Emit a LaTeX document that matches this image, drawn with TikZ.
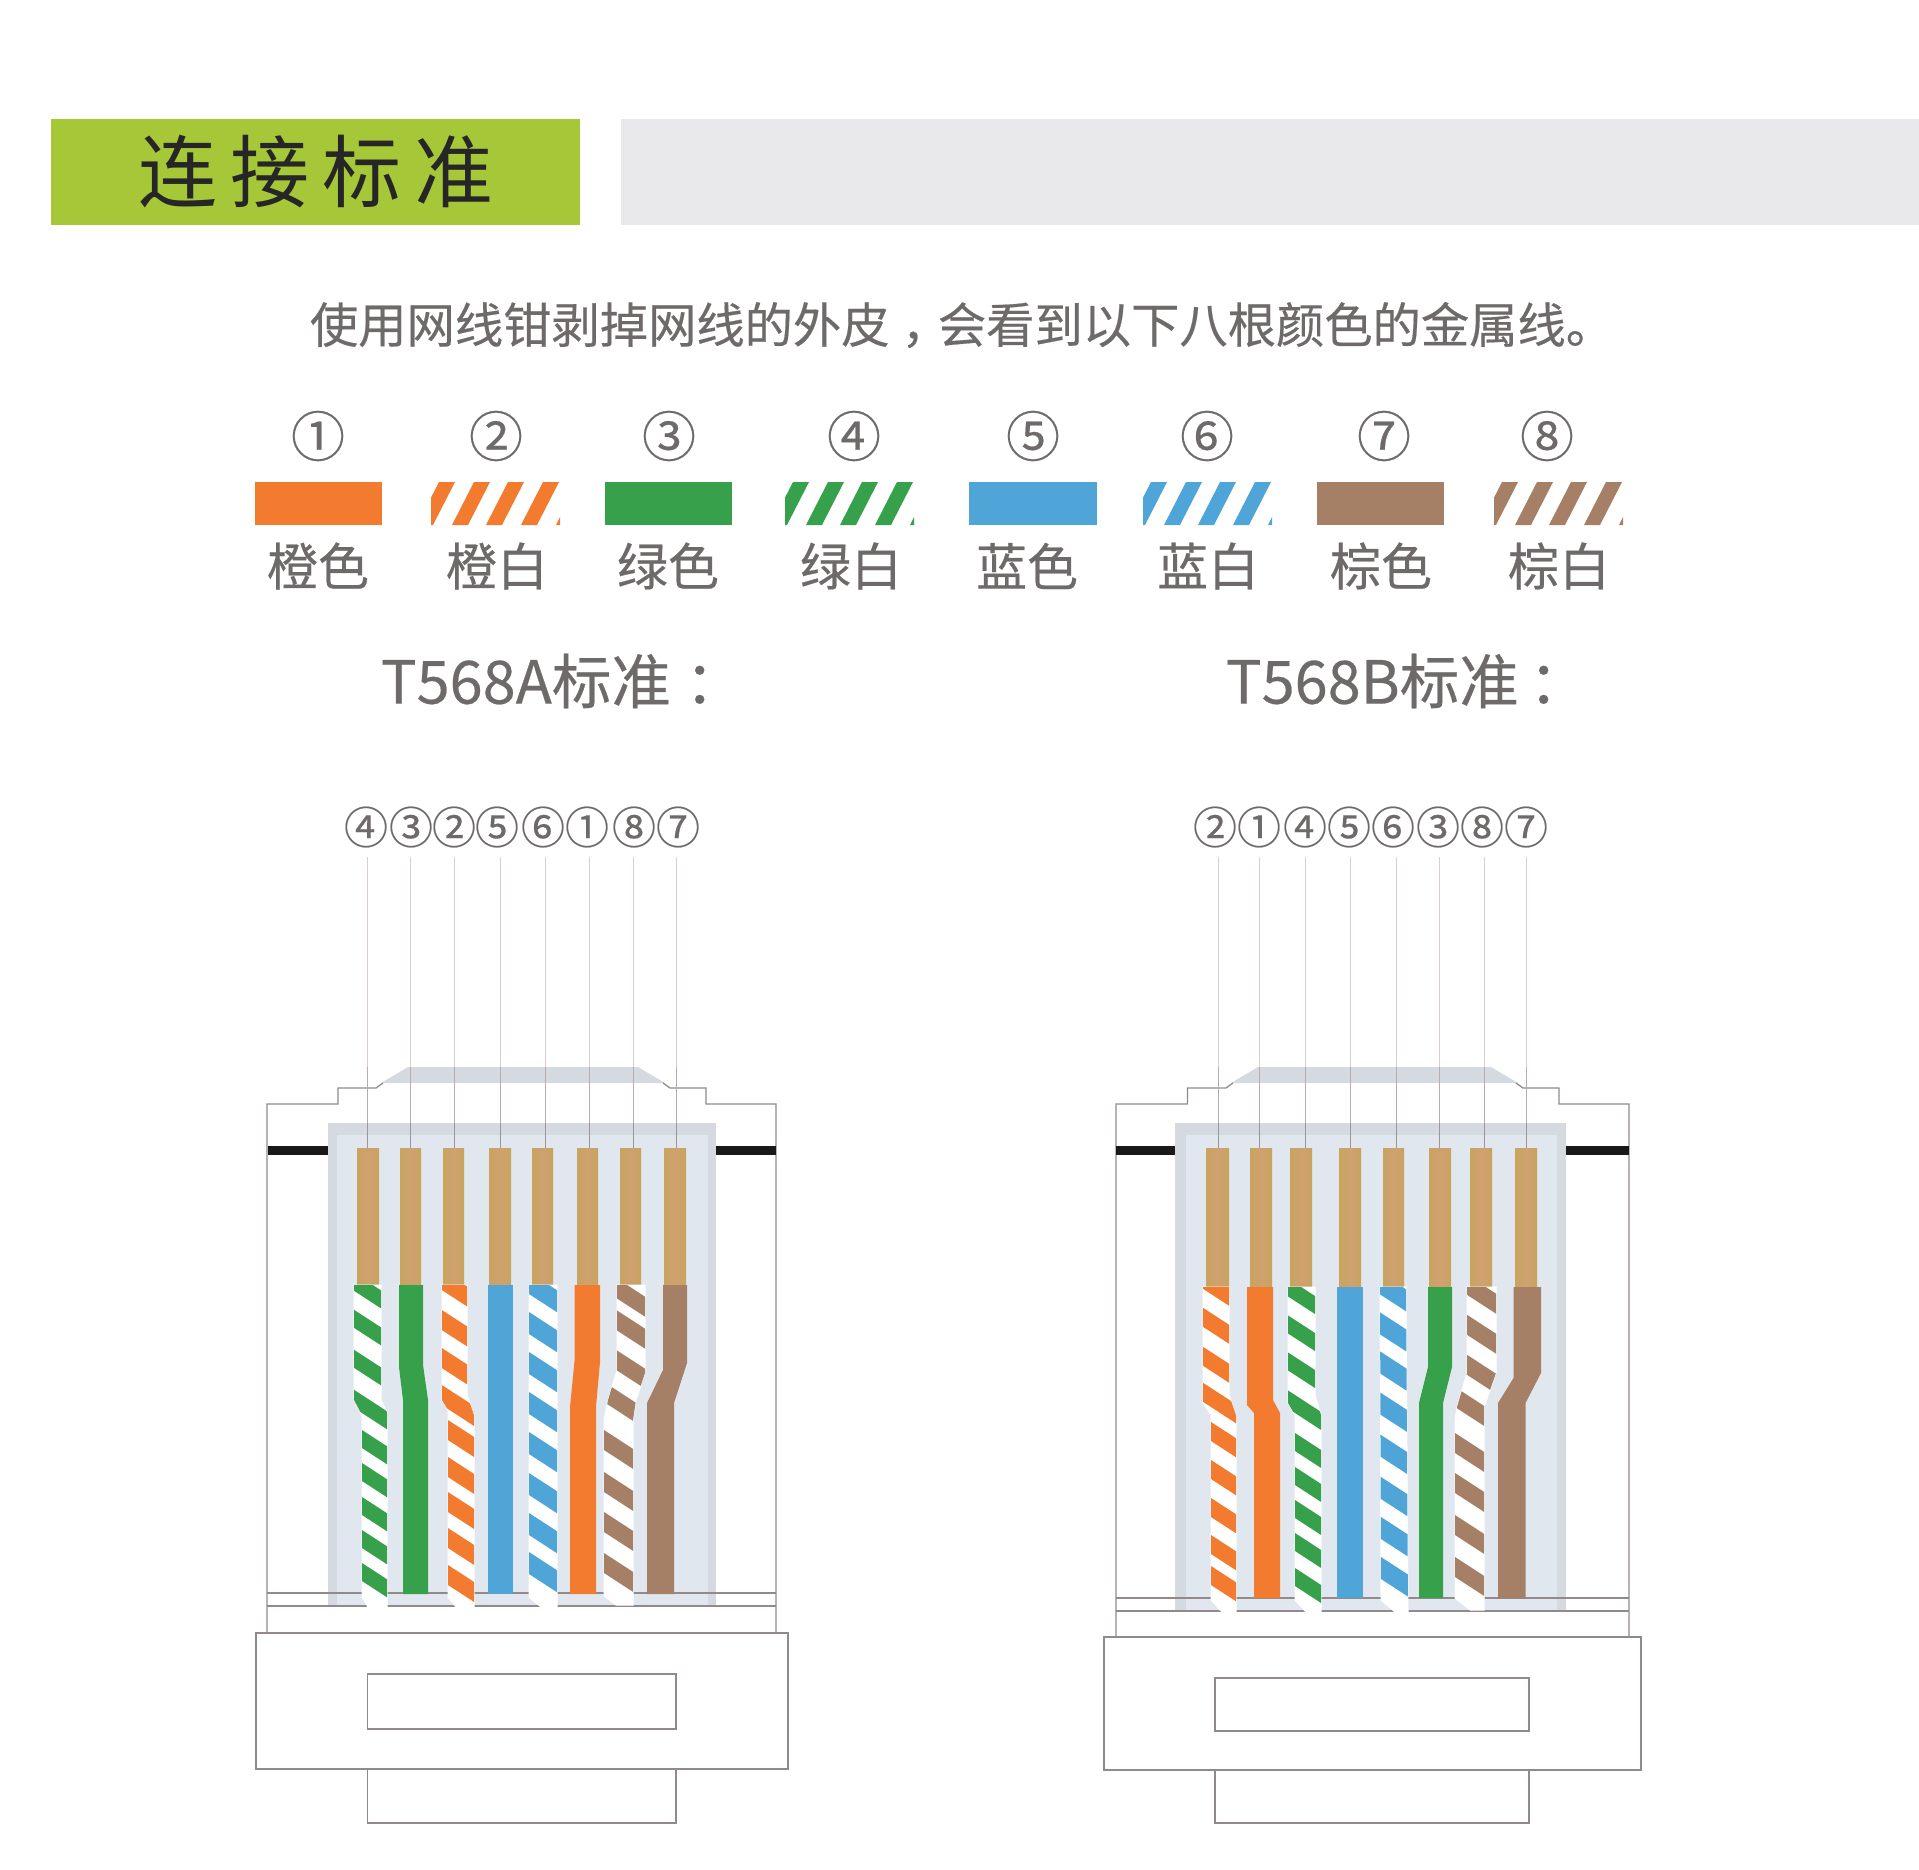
\documentclass[tikz,border=0pt]{standalone}
\usepackage{fontspec}
\setmainfont{Noto Sans CJK SC}
\newfontfamily\mfont[FakeBold=0.4]{Noto Sans CJK SC}
\definecolor{cor}{HTML}{F37B2F}
\definecolor{cgr}{HTML}{36A04A}
\definecolor{cbl}{HTML}{4FA5D8}
\definecolor{cbr}{HTML}{A58066}
\definecolor{ccu}{HTML}{C8A45E}
\definecolor{ccm}{HTML}{CFA170}
\definecolor{ctxt}{HTML}{6E6A6A}
\definecolor{cline}{HTML}{94898A}
\definecolor{cthin}{HTML}{DCCCCC}
\definecolor{cthm}{HTML}{B8ACAC}
\definecolor{cthd}{HTML}{9C9698}
\definecolor{gout}{HTML}{D5DAE1}
\definecolor{gin}{HTML}{E1E7EE}
\definecolor{hgreen}{HTML}{A5C738}
\definecolor{hgrey}{HTML}{E9E8EA}
\newcommand{\fsz}[1]{\fontsize{#1}{#1}\selectfont}
% path, colour, reference x, band thickness, list of y
\newcommand{\swire}[5]{%
  \fill[white,draw=white,line width=1pt] #1;
  \begin{scope}
    \clip #1;
    \foreach \yy in {#5} {
      \fill[#2] ({#3-30},{\yy-19.5}) -- ({#3+60},{\yy+39}) -- ({#3+60},{\yy+39+#4}) -- ({#3-30},{\yy-19.5+#4}) -- cycle;
    }
  \end{scope}}
\newcommand{\swatch}[2]{%
  \begin{scope}
    \clip (#1,482) rectangle ({#1+129},525);
    \foreach \dd in {-14,21,55,90,125} {
      \fill[#2] ({#1+\dd},525) -- ({#1+\dd+16},525) -- ({#1+\dd+38},482) -- ({#1+\dd+22},482) -- cycle;
    }
  \end{scope}}
\tikzset{
  hous/.style={draw=cline,line width=1.3pt},
  thinl/.style={draw=cthin,line width=1pt},
  thinm/.style={draw=cthm,line width=1pt},
  thind/.style={draw=cthd,line width=1pt},
  copper/.style={left color=ccu,right color=ccu,middle color=ccm},
  txt/.style={text=ctxt,inner sep=0pt,outer sep=0pt,anchor=center},
  legn/.style={txt,font=\mfont\fsz{54}},
  legt/.style={txt,font=\mfont\fsz{51}},
  ordn/.style={txt,font=\mfont\fsz{44}},
  head/.style={txt,anchor=west,font=\mfont\fsz{59.5}}
}
\begin{document}
\begin{tikzpicture}[x=1pt,y=-1pt]
\useasboundingbox (0,0) rectangle (1919,1869);
\fill[white] (0,0) rectangle (1919,1869);
% header
\fill[hgreen] (51,119) rectangle (580,225);
\fill[hgrey] (621,119) rectangle (1919,225);
\node[txt,text=black!85,font=\fsz{79}] (title) at (316,172) {连\hspace{13pt}接\hspace{13pt}标\hspace{13pt}准};
\node[txt,font=\mfont\fsz{48.3}] (intro) at (962,325) {使用网线钳剥掉网线的外皮\hspace{12pt}，\hspace{-12pt}会看到以下八根颜色的金属线。};
% legend
\foreach \x/\t [count=\n] in {318/①,496/②,669/③,854/④,1033/⑤,1207/⑥,1384/⑦,1547/⑧} {
  \node[legn] (leg\n) at (\x,436) {\t};
}
\foreach \x/\t [count=\n] in {318/橙色,497/橙白,668/绿色,851/绿白,1027/蓝色,1208/蓝白,1381/棕色,1559/棕白} {
  \node[legt] (lab\n) at (\x,566) {\t};
}
\fill[cor] (255,482) rectangle (382,525);
\swatch{431}{cor}
\fill[cgr] (605,482) rectangle (732,525);
\swatch{785}{cgr}
\fill[cbl] (969,482) rectangle (1097,525);
\swatch{1143}{cbl}
\fill[cbr] (1317,482) rectangle (1444,525);
\swatch{1494}{cbr}
\node[head] (headA) at (381,681) {T568A标准\hspace{14pt}：};
\node[head] (headB) at (1226,681) {T568B标准\hspace{10pt}：};
% ---------- connector A
\foreach \x/\t [count=\n] in {366/④,411/③,454/②,497/⑤,543/⑥,587/①,634/⑧,678/⑦} {
  \node[ordn] (oa\n) at (\x,827) {\t};
}
\fill[gout] (327.5,1123) rectangle (716,1606);
\fill[gin] (337,1135) rectangle (708,1606);
\fill[gout] (408,1067) -- (638,1067) -- (665,1083) -- (381,1083) -- cycle;
\draw[hous] (267,1633) -- (267,1104) -- (338,1104) -- (338,1088) -- (376,1088) -- (383,1083);
\draw[hous] (663,1083) -- (670,1088) -- (706,1088) -- (706,1104) -- (776,1104) -- (776,1633);
\fill[black!90] (268,1146) rectangle (327.5,1155);
\fill[black!90] (716,1146) rectangle (776,1155);
\draw[hous] (267,1593) -- (776,1593);
\draw[hous] (267,1606) -- (776,1606);
\foreach \x/\w in {357/22,400/21,443/21,489/22,532/21,577/21,620/21,664/22} {
  \shade[copper] (\x,1148) rectangle ({\x+\w},1287);
}
\foreach \x [count=\n] in {367.5,410,454,500,545,589,633.5,676} {
  \coordinate (ta\n) at (\x,857);
  \coordinate (ma\n) at (\x,1067);
  \coordinate (na\n) at (\x,1123);
  \coordinate (ba\n) at (\x,1148);
  \draw[thinl] (ta\n) -- (ma\n);
  \draw[thinm] (ma\n) -- (na\n);
  \draw[thind] (na\n) -- (ba\n);
}
\swire{(354,1285) -- (381,1285) -- (381,1400) -- (387,1412) -- (387,1607) -- (368,1607) -- (362,1597) -- (362,1415) -- (354,1400) -- cycle}{cgr}{362}{18}{1278,1315,1355,1395,1430,1463,1497,1530,1563}
\fill[cgr] (399,1285) -- (423,1285) -- (423,1365) -- (428,1400) -- (428,1594) -- (403,1594) -- (403,1400) -- (399,1367) -- cycle;
\swire{(442,1285) -- (467,1285) -- (467,1395) -- (474,1415) -- (474,1607) -- (456,1607) -- (448,1597) -- (448,1410) -- (442,1400) -- cycle}{cor}{448}{20}{1274,1314,1352,1389,1420,1457,1492,1528,1565}
\fill[cbl] (487.5,1285) rectangle (513,1594);
\swire{(529,1285) -- (557,1285) -- (557,1607) -- (541,1607) -- (529,1597) -- cycle}{cbl}{529}{22}{1272,1312,1352,1392,1432,1473,1513,1552}
\fill[cor] (574.6,1285) -- (600,1285) -- (600,1362) -- (596,1407) -- (596,1594) -- (570,1594) -- (570,1407) -- (574.6,1360) -- cycle;
\swire{(617,1285) -- (645,1285) -- (645,1373) -- (636,1400) -- (633,1420) -- (633,1605) -- (616,1605) -- (604,1596) -- (604,1420) -- (608,1400) -- (617,1370) -- cycle}{cbr}{604}{20}{1270,1302,1342,1382,1430,1472,1512,1553}
\fill[cbr] (663,1285) -- (687,1285) -- (687,1363) -- (674,1403) -- (674,1594) -- (647,1594) -- (647,1403) -- (663,1370) -- cycle;
% bottom of connector A
\draw[hous] (256,1633) rectangle (788,1769);
\draw[hous] (367.5,1674) rectangle (676,1729);
\draw[hous] (367.5,1769) rectangle (676,1823);
% ---------- connector B
\foreach \x/\t [count=\n] in {1215/②,1259/①,1305/④,1349/⑤,1393/⑥,1438/③,1482/⑧,1526/⑦} {
  \node[ordn] (ob\n) at (\x,827) {\t};
}
\fill[gout] (1175,1123) rectangle (1566,1611);
\fill[gin] (1186,1135) rectangle (1557,1611);
\fill[gout] (1258,1067) -- (1491,1067) -- (1518,1083) -- (1231,1083) -- cycle;
\draw[hous] (1116,1637) -- (1116,1104) -- (1187.5,1104) -- (1187.5,1088) -- (1226,1088) -- (1233,1083);
\draw[hous] (1516,1083) -- (1523,1088) -- (1559,1088) -- (1559,1104) -- (1629,1104) -- (1629,1637);
\fill[black!90] (1116,1146) rectangle (1175,1155);
\fill[black!90] (1566,1146) rectangle (1629,1155);
\draw[hous] (1116,1598) -- (1629,1598);
\draw[hous] (1116,1611) -- (1629,1611);
\foreach \x/\w in {1206/23,1250/22,1290/22,1339/22,1383/21,1429/22,1470/22,1515/22} {
  \shade[copper] (\x,1148) rectangle ({\x+\w},1288);
}
\foreach \x [count=\n] in {1218,1259.5,1305,1350,1396.6,1439,1484.7,1526} {
  \coordinate (tb\n) at (\x,857);
  \coordinate (mb\n) at (\x,1067);
  \coordinate (nb\n) at (\x,1123);
  \coordinate (bb\n) at (\x,1148);
  \draw[thinl] (tb\n) -- (mb\n);
  \draw[thinm] (mb\n) -- (nb\n);
  \draw[thind] (nb\n) -- (bb\n);
}
\swire{(1203,1287) -- (1229,1287) -- (1229,1395) -- (1236,1415) -- (1236,1612) -- (1222,1612) -- (1211,1600) -- (1211,1415) -- (1203,1403) -- cycle}{cor}{1211}{19}{1275,1313,1352,1388,1422,1460,1498,1535,1566}
\fill[cor] (1247,1287) -- (1273,1287) -- (1273,1400) -- (1280,1413) -- (1280,1598) -- (1254,1598) -- (1254,1413) -- (1247,1405) -- cycle;
\swire{(1288,1287) -- (1315,1287) -- (1315,1395) -- (1321,1415) -- (1321,1612) -- (1306,1612) -- (1295,1600) -- (1295,1415) -- (1288,1403) -- cycle}{cgr}{1295}{18}{1283,1320,1357,1395,1433,1467,1500,1533,1568}
\fill[cbl] (1337,1287) rectangle (1363,1598);
\swire{(1380,1287) -- (1406,1287) -- (1408,1612) -- (1395,1612) -- (1381,1600) -- cycle}{cbl}{1381}{22}{1273,1313,1352,1393,1435,1477,1517,1557}
\fill[cgr] (1428,1287) -- (1452,1287) -- (1452,1367) -- (1443,1403) -- (1443,1598) -- (1419,1598) -- (1419,1403) -- (1428,1367) -- cycle;
\swire{(1467,1287) -- (1496,1287) -- (1496,1373) -- (1484,1407) -- (1484,1610) -- (1470,1610) -- (1455,1598) -- (1455,1420) -- (1457,1407) -- (1467,1373) -- cycle}{cbr}{1455}{20}{1267,1307,1347,1387,1433,1473,1515,1557}
\fill[cbr] (1513.5,1287) -- (1541,1287) -- (1541,1373) -- (1525.5,1403) -- (1525.5,1598) -- (1498,1598) -- (1498,1403) -- (1513.5,1378) -- cycle;
% bottom of connector B
\draw[hous] (1104,1637) rectangle (1641,1770);
\draw[hous] (1215,1678) rectangle (1529,1731);
\draw[hous] (1215,1770) rectangle (1529,1823);
\end{tikzpicture}
\end{document}
